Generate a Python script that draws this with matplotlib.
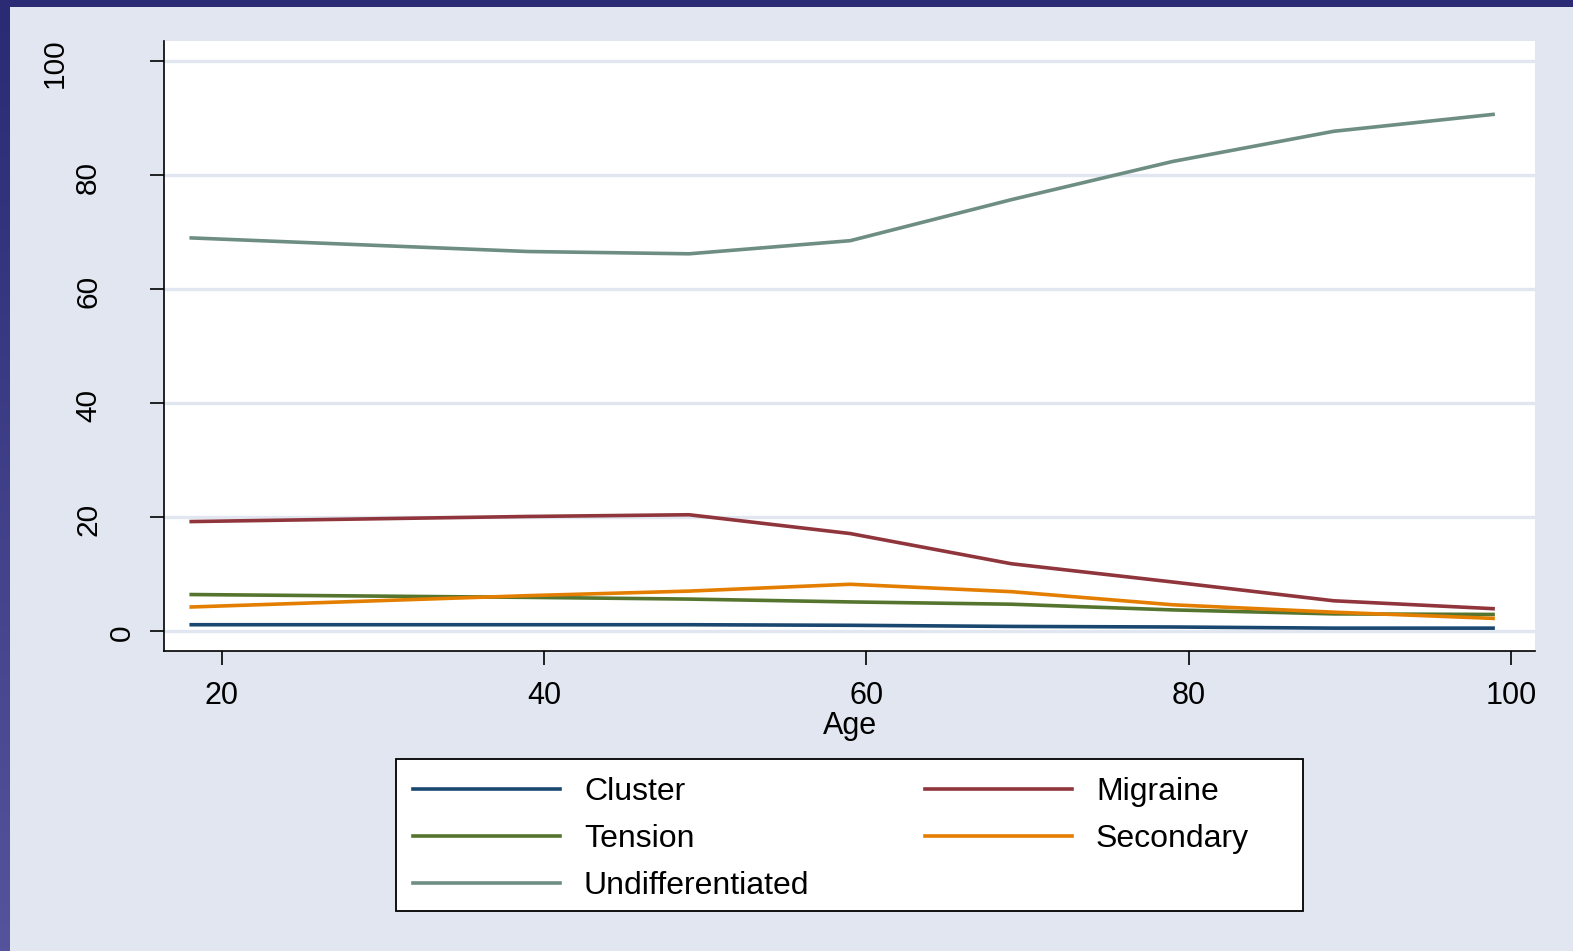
import numpy as np
import matplotlib
matplotlib.use("Agg")
import matplotlib.pyplot as plt
from matplotlib.lines import Line2D
from matplotlib.patches import Rectangle
from matplotlib.colors import LinearSegmentedColormap
from matplotlib.transforms import blended_transform_factory

plt.rcParams['font.family'] = ['Liberation Sans', 'DejaVu Sans']

# ---- data ----
age = [18, 39, 49, 59, 69, 79, 89, 99]
cluster = [1.1, 1.1, 1.1, 1.0, 0.8, 0.7, 0.5, 0.5]
migraine = [19.2, 20.1, 20.4, 17.1, 11.8, 8.6, 5.3, 3.9]
tension = [6.4, 5.9, 5.6, 5.1, 4.7, 3.7, 3.0, 2.9]
secondary = [4.2, 6.2, 7.0, 8.2, 6.9, 4.6, 3.3, 2.2]
undiff = [69.0, 66.6, 66.2, 68.5, 75.7, 82.4, 87.7, 90.7]
series_names = ["Cluster", "Migraine", "Tension", "Secondary", "Undifferentiated"]
xticks = [20, 40, 60, 80, 100]
yticks = [0, 20, 40, 60, 80, 100]

colors = {"Cluster": "#1a476f", "Migraine": "#90353b", "Tension": "#55752f",
          "Secondary": "#e37e00", "Undifferentiated": "#6e8e84"}

W, H = 1573, 951
BG = "#e1e6f0"
fig = plt.figure(figsize=(W / 100, H / 100), dpi=100, facecolor=BG)

# frame bands
top = fig.add_axes([0, 1 - 7 / H, 1, 7 / H])
top.set_axis_off()
top.add_patch(Rectangle((0, 0), 1, 1, color="#2a2a75", transform=top.transAxes))
side = fig.add_axes([0, 0, 10 / W, 1 - 7 / H])
side.set_axis_off()
grad = np.linspace(0, 1, 256).reshape(-1, 1)
cm = LinearSegmentedColormap.from_list("g", ["#2a2a75", "#55539b"])
side.imshow(grad, aspect="auto", cmap=cm, extent=[0, 1, 1, 0])

# main axes
L, R, T, B = 164.3, 1535, 40.7, 650.7
ax = fig.add_axes([L / W, 1 - B / H, (R - L) / W, (B - T) / H])
ax.set_facecolor("white")
ax.set_xlim(16.44, 101.49)
ax.set_ylim(-3.46, 103.6)

data = {"Cluster": cluster, "Migraine": migraine, "Tension": tension,
        "Secondary": secondary, "Undifferentiated": undiff}
for name in series_names:
    ax.plot(age, data[name], color=colors[name], lw=2.6, solid_capstyle="butt", zorder=3)

for y in yticks:
    ax.axhline(y, color=BG, lw=2.4, zorder=1)

for s in ["top", "right"]:
    ax.spines[s].set_visible(False)
for s in ["left", "bottom"]:
    ax.spines[s].set_linewidth(1.2)
    ax.spines[s].set_color("black")

ax.set_xticks(xticks)
ax.set_yticks(yticks)
ax.set_xticklabels([str(v) for v in xticks])
ax.set_yticklabels([])
ax.tick_params(axis="both", direction="out", length=10, width=1.2, colors="black")
ax.tick_params(axis="x", pad=12, labelsize=22)
ax.set_xlabel("Age", fontsize=22, labelpad=0)

# y tick labels (rotated, staggered as in the original rendering)
tr = blended_transform_factory(fig.transFigure, ax.transData)
for v in yticks:
    s = str(v)
    xc = 155.4 - 33.6 * len(s)
    ax.text(xc / W, v - 0.35, s, transform=tr, rotation=90, ha="center", va="center",
            fontsize=21.5, clip_on=False)

# legend frame
lx0, lx1, ly0, ly1 = 396, 1303, 759, 911
fig.patches.append(Rectangle((lx0 / W, 1 - ly1 / H), (lx1 - lx0) / W, (ly1 - ly0) / H,
                             transform=fig.transFigure, facecolor="white",
                             edgecolor="black", lw=1.3, zorder=0))

def mk(names):
    return [Line2D([0], [0], color=colors[n], lw=2.6) for n in names]

fs = 23
col1 = ["Cluster", "Tension", "Undifferentiated"]
col2 = ["Migraine", "Secondary"]
common = dict(frameon=False, fontsize=fs, handlelength=4.6, handletextpad=0.75,
              labelspacing=0.53, borderpad=0, borderaxespad=0, loc="upper left")
leg1 = fig.legend(mk(col1), col1, bbox_to_anchor=(413 / W, 1 - 777 / H), **common)
leg2 = fig.legend(mk(col2), col2, bbox_to_anchor=(925 / W, 1 - 777 / H), **common)

fig.savefig("out.png", dpi=100, facecolor=BG)
